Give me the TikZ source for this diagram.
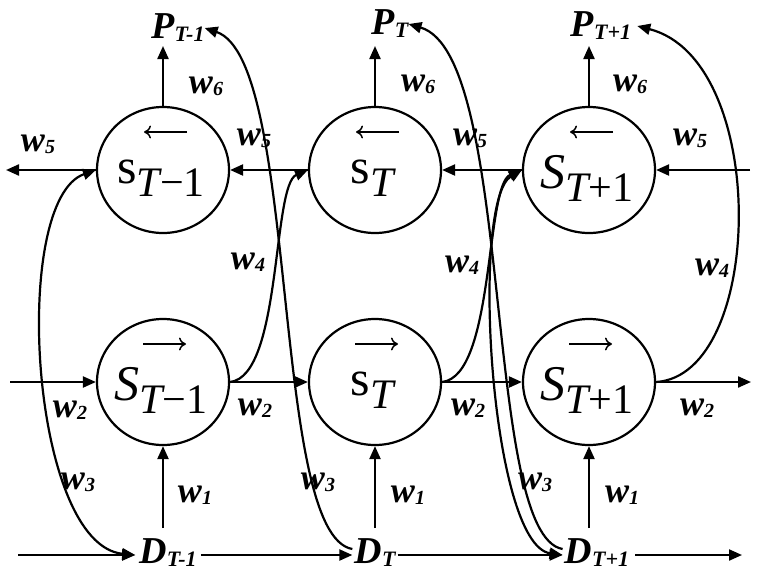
\documentclass[tikz,border=0pt]{standalone}
\usepackage{fontspec}
\setmainfont{Liberation Serif}
\usetikzlibrary{arrows.meta,calc,shapes.geometric}
\newcommand\wl[1]{{\fontsize{36}{36}\selectfont\bfseries\itshape w\raisebox{-2pt}{\fontsize{20}{20}\selectfont #1}}}
\newcommand\pl[2]{{\fontsize{38}{38}\selectfont\bfseries\itshape #1\raisebox{-3pt}{\fontsize{22}{22}\selectfont #2}}}
\newcommand\sn[2]{{\fontsize{50}{50}\selectfont #1\raisebox{-13pt}{\fontsize{42}{42}\selectfont\itshape T\upshape #2}}}
\begin{document}
\begin{tikzpicture}[x=1pt,y=-1pt,
  circ/.style={draw,line width=2.2pt,ellipse,minimum width=132pt,minimum height=126pt,inner sep=0pt},
  conn/.style={line width=2.2pt,-{Triangle[length=13pt,width=11pt]}},
  bconn/.style={line width=2.2pt,{Triangle[length=13pt,width=11pt]}-{Triangle[length=13pt,width=11pt]}},
  sarr/.style={line width=1.5pt,-{To[length=7pt,width=13pt]}},
  lbl/.style={inner sep=0pt}]
\useasboundingbox (0,0) rectangle (757,579);
% nodes
\node[circ] (u1) at (163,170) {};
\node[circ] (u2) at (375,170) {};
\node[circ] (u3) at (589,170) {};
\node[circ] (l1) at (163,382) {};
\node[circ] (l2) at (375,382) {};
\node[circ] (l3) at (589,382) {};
\node[lbl] at ($(u1)+(-2,8)$) {\sn{s}{−1}};
\node[lbl] at ($(u2)+(-3,8)$) {\sn{s}{}};
\node[lbl] at ($(u3)+(-2,8)$) {\sn{\itshape S}{+1}};
\node[lbl] at ($(l1)+(-2,8)$) {\sn{\itshape S}{−1}};
\node[lbl] at ($(l2)+(-3,8)$) {\sn{s}{}};
\node[lbl] at ($(l3)+(-2,8)$) {\sn{\itshape S}{+1}};
\foreach \n in {u1,u2,u3} \draw[sarr] ($(\n)+(24,-38)$) -- ++(-43,0);
\foreach \n in {l1,l2,l3} \draw[sarr] ($(\n)+(-20,-38)$) -- ++(43,0);
\node[lbl] (d1) at (168,553) {\pl{D}{T-1}};
\node[lbl] (d2) at (375,553) {\pl{D}{T}};
\node[lbl] (d3) at (597,553) {\pl{D}{T+1}};
\node[lbl] (p1) at (178,28) {\pl{P}{T-1}};
\node[lbl] (p2) at (390,24) {\pl{P}{T}};
\node[lbl] (p3) at (601,26) {\pl{P}{T+1}};
\coordinate (dl) at (18,555);
\coordinate (dr) at (742,555);
\coordinate (ll) at (10,382);
\coordinate (lr) at (751,382);
\coordinate (ul) at (6,170);
\coordinate (ur) at (750,170);
% horizontal
\draw[conn] (dl) -- ($(d1.west)+(-4,2)$);
\draw[conn] ($(d1.east)+(4,2)$) -- ($(d2.west)+(-2,2)$);
\draw[conn] ($(d2.east)+(2,2)$) -- ($(d3.west)+(-2,2)$);
\draw[conn] ($(d3.east)+(6,2)$) -- (dr);
\draw[conn] (ll) -- (l1.west);
\draw[conn] (l1.east) -- (l2.west);
\draw[conn] (l2.east) -- (l3.west);
\draw[conn] (l3.east) -- (lr);
\draw[conn] (ur) -- (u3.east);
\draw[conn] (u3.west) -- (u2.east);
\draw[conn] (u2.west) -- (u1.east);
\draw[conn] (u1.west) -- (ul);
% vertical
\foreach \i in {1,2,3} {
  \draw[conn] (l\i.south |- 0,528) -- (l\i.south);
  \draw[conn] (u\i.north) -- (u\i.north |- 0,46);
}
% curves
\draw[bconn] (u1.west) .. controls (10,200) and (30,545) .. ($(d1.west)+(-4,2)$);
\draw[bconn] (u3.west) .. controls (470,200) and (490,545) .. ($(d3.west)+(-2,2)$);
\draw[conn] ($(d2.west)+(-2,-4)$) .. controls (270,535) and (300,60) .. (p1.east);
\draw[conn] ($(d3.west)+(-2,-4)$) .. controls (482,535) and (515,55) .. (p2.east);
\draw[conn] (l3.east) .. controls (765,375) and (770,60) .. ($(p3.east)+(6,0)$);
\draw[conn] (l1.east) .. controls (282,376) and (272,185) .. (u2.west);
\draw[conn] (l2.east) .. controls (495,376) and (485,185) .. (u3.west);
% labels
\node[lbl] at (38,144) {\wl{5}};
\node[lbl] at (254,138) {\wl{5}};
\node[lbl] at (470,138) {\wl{5}};
\node[lbl] at (690,138) {\wl{5}};
\node[lbl] at (206,86) {\wl{6}};
\node[lbl] at (418,84) {\wl{6}};
\node[lbl] at (630,84) {\wl{6}};
\node[lbl] at (248,262) {\wl{4}};
\node[lbl] at (462,265) {\wl{4}};
\node[lbl] at (712,268) {\wl{4}};
\node[lbl] at (70,410) {\wl{2}};
\node[lbl] at (255,408) {\wl{2}};
\node[lbl] at (468,408) {\wl{2}};
\node[lbl] at (697,408) {\wl{2}};
\node[lbl] at (78,482) {\wl{3}};
\node[lbl] at (318,482) {\wl{3}};
\node[lbl] at (535,482) {\wl{3}};
\node[lbl] at (195,495) {\wl{1}};
\node[lbl] at (408,495) {\wl{1}};
\node[lbl] at (622,495) {\wl{1}};
\end{tikzpicture}
\end{document}
